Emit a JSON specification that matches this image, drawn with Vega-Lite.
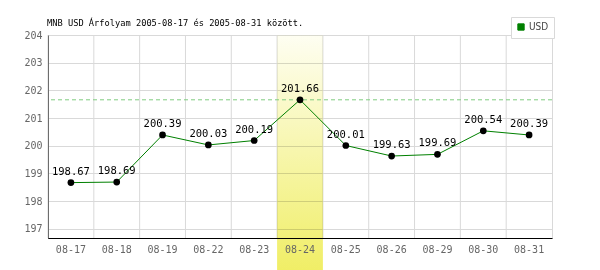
{
  "$schema": "https://vega.github.io/schema/vega-lite/v6.json",
  "autosize": "none",
  "width": 504,
  "height": 203,
  "padding": {"left": 48, "top": 35, "right": 48, "bottom": 32},
  "background": "white",
  "title": {
    "text": "MNB USD Árfolyam 2005-08-17 és 2005-08-31 között.",
    "anchor": "start",
    "frame": "group",
    "offset": 9,
    "dx": -1,
    "dy": 20,
    "font": "DejaVu Sans Mono",
    "fontSize": 8.7,
    "fontWeight": "normal",
    "color": "#000000"
  },
  "config": {
    "view": {"stroke": "#d9d9d9"},
    "axisY": {"tickCount": 8, "values": [197, 198, 199, 200, 201, 202, 203, 204]}
  },
  "data": {
    "values": [
      {"d": "08-17", "v": 198.67},
      {"d": "08-18", "v": 198.69},
      {"d": "08-19", "v": 200.39},
      {"d": "08-22", "v": 200.03},
      {"d": "08-23", "v": 200.19},
      {"d": "08-24", "v": 201.66},
      {"d": "08-25", "v": 200.01},
      {"d": "08-26", "v": 199.63},
      {"d": "08-29", "v": 199.69},
      {"d": "08-30", "v": 200.54},
      {"d": "08-31", "v": 200.39}
    ]
  },
  "layer": [
    {
      "mark": {"type": "rule", "color": "#d9d9d9", "strokeWidth": 1},
      "encoding": {
        "x": {
          "field": "d",
          "type": "ordinal",
          "sort": null,
          "bandPosition": 0,
          "scale": {"type": "band", "paddingInner": 0, "paddingOuter": 0},
          "axis": {
            "title": null,
            "labelAngle": 0,
            "ticks": false,
            "grid": false,
            "zindex": 1,
            "domainColor": "#000000",
            "labelColor": "#666666",
            "labelFont": "DejaVu Sans Mono",
            "labelFontSize": 10,
            "labelPadding": 6,
            "labelOverlap": false
          }
        }
      }
    },
    {
      "transform": [{"filter": "datum.d === '08-24'"}],
      "mark": {
        "type": "rect",
        "clip": false,
        "blend": "multiply",
        "fill": {
          "gradient": "linear",
          "x1": 0, "y1": 0, "x2": 0, "y2": 1,
          "stops": [
            {"offset": 0, "color": "#fefef2"},
            {"offset": 1, "color": "#f0ee66"}
          ]
        }
      },
      "encoding": {
        "x": {"field": "d", "type": "ordinal", "sort": null},
        "y": {
          "datum": 204,
          "type": "quantitative",
          "scale": {"domain": [196.67, 204], "nice": false, "zero": false},
          "axis": {
            "title": null,
            "values": [197, 198, 199, 200, 201, 202, 203, 204],
            "tickCount": 8,
            "ticks": false,
            "grid": true,
            "zindex": 0,
            "gridColor": "#d9d9d9",
            "domainColor": "#000000",
            "labelColor": "#666666",
            "labelFont": "DejaVu Sans Mono",
            "labelFontSize": 10,
            "labelPadding": 6,
            "labelOverlap": false
          }
        },
        "y2": {"datum": 195.5}
      }
    },
    {
      "mark": {"type": "rule", "color": "#80cc80", "strokeDash": [4, 3], "strokeWidth": 1},
      "encoding": {
        "y": {"aggregate": "max", "field": "v", "type": "quantitative"}
      }
    },
    {
      "mark": {"type": "line", "strokeWidth": 1},
      "encoding": {
        "x": {"field": "d", "type": "ordinal", "sort": null},
        "y": {"field": "v", "type": "quantitative"},
        "color": {
          "datum": "USD",
          "scale": {"range": ["#008000"]},
          "legend": {
            "title": null,
            "orient": "none",
            "legendX": 463,
            "legendY": -18,
            "direction": "vertical",
            "padding": 5,
            "strokeColor": "#d9d9d9",
            "fillColor": "#ffffff",
            "symbolType": "square",
            "symbolSize": 40,
            "symbolFillColor": "#008000",
            "symbolStrokeColor": "#555555",
            "symbolStrokeWidth": 1,
            "labelFont": "DejaVu Sans Condensed",
            "labelFontSize": 10,
            "labelColor": "#444444",
            "labelOffset": 3
          }
        }
      }
    },
    {
      "mark": {"type": "circle", "color": "#000000", "opacity": 1, "size": 45},
      "encoding": {
        "x": {"field": "d", "type": "ordinal", "sort": null},
        "y": {"field": "v", "type": "quantitative"}
      }
    },
    {
      "mark": {"type": "text", "dy": -11, "font": "DejaVu Sans Mono", "fontSize": 10.5, "color": "#000000"},
      "encoding": {
        "x": {"field": "d", "type": "ordinal", "sort": null},
        "y": {"field": "v", "type": "quantitative"},
        "text": {"field": "v", "type": "quantitative", "format": ".2f"}
      }
    }
  ]
}
